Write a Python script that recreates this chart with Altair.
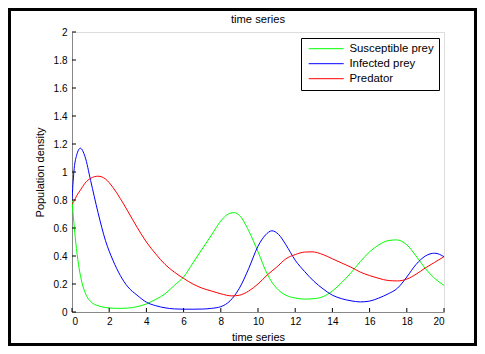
import altair as alt
import pandas as pd

# ---- data ----
series_names = ["Susceptible prey", "Infected prey", "Predator"]
series_colors = ["#00ff00", "#0000ff", "#ff0000"]

t_susceptible = [0, 0.1, 0.2, 0.35, 0.5, 0.7, 1.0, 1.4, 1.8, 2.2, 2.6, 3.0, 3.5, 4.0, 4.5,
                 5.0, 5.5, 6.0, 6.5, 7.0, 7.5, 8.0, 8.4, 8.7, 9.0, 9.5, 10.0, 10.5, 11.0,
                 11.5, 12.0, 12.5, 13.0, 13.5, 14.0, 14.5, 15.0, 15.5, 16.0, 16.5, 17.0,
                 17.45, 18.0, 18.5, 19.0, 19.5, 20.0]
v_susceptible = [0.80, 0.64, 0.50, 0.34, 0.23, 0.14, 0.075, 0.045, 0.032, 0.027, 0.026,
                 0.028, 0.038, 0.058, 0.09, 0.13, 0.19, 0.25, 0.35, 0.45, 0.55, 0.65, 0.70,
                 0.71, 0.69, 0.58, 0.43, 0.27, 0.17, 0.12, 0.10, 0.092, 0.095, 0.11, 0.15,
                 0.21, 0.28, 0.36, 0.43, 0.48, 0.51, 0.515, 0.48, 0.40, 0.31, 0.24, 0.19]

t_infected = [0, 0.1, 0.25, 0.45, 0.7, 1.0, 1.4, 1.8, 2.2, 2.6, 3.0, 3.5, 4.0, 4.5, 5.0,
              5.5, 6.0, 6.5, 7.0, 7.5, 8.0, 8.5, 9.0, 9.5, 10.0, 10.4, 10.75, 11.1, 11.5,
              12.0, 12.5, 13.0, 13.5, 14.0, 14.5, 15.0, 15.5, 16.0, 16.5, 17.0, 17.5,
              18.0, 18.5, 19.0, 19.5, 20.0]
v_infected = [0.80, 1.00, 1.12, 1.17, 1.11, 0.94, 0.71, 0.51, 0.37, 0.26, 0.18, 0.12, 0.07,
              0.045, 0.03, 0.022, 0.02, 0.02, 0.021, 0.026, 0.038, 0.08, 0.17, 0.31, 0.47,
              0.55, 0.58, 0.555, 0.48, 0.37, 0.29, 0.22, 0.165, 0.12, 0.095, 0.08, 0.072,
              0.078, 0.10, 0.13, 0.17, 0.25, 0.34, 0.40, 0.42, 0.395]

t_predator = [0, 0.1, 0.25, 0.45, 0.7, 1.0, 1.4, 1.8, 2.2, 2.6, 3.0, 3.5, 4.0, 4.5, 5.0,
              5.5, 6.0, 6.5, 7.0, 7.5, 8.0, 8.6, 9.0, 9.5, 10.0, 10.5, 11.0, 11.5, 12.0,
              12.5, 12.9, 13.5, 14.0, 14.5, 15.0, 15.5, 16.0, 16.5, 17.0, 17.5, 18.0,
              18.5, 19.0, 19.5, 20.0]
v_predator = [0.77, 0.79, 0.83, 0.87, 0.92, 0.955, 0.97, 0.95, 0.89, 0.81, 0.72, 0.605,
              0.50, 0.415, 0.34, 0.285, 0.24, 0.20, 0.17, 0.15, 0.13, 0.115, 0.12, 0.15,
              0.20, 0.265, 0.32, 0.38, 0.41, 0.428, 0.43, 0.41, 0.38, 0.35, 0.32, 0.285,
              0.26, 0.24, 0.225, 0.222, 0.235, 0.27, 0.315, 0.355, 0.395]

x_ticks = [0, 2, 4, 6, 8, 10, 12, 14, 16, 18, 20]
y_ticks = [0, 0.2, 0.4, 0.6, 0.8, 1.0, 1.2, 1.4, 1.6, 1.8, 2.0]

# ---- build table ----
frames = []
for name, ts, vs in zip(series_names,
                        [t_susceptible, t_infected, t_predator],
                        [v_susceptible, v_infected, v_predator]):
    frames.append(pd.DataFrame({"time": ts, "value": vs, "series": name}))
df = pd.concat(frames, ignore_index=True)

W, H = 372, 280
SVG_W, SVG_H = 469, 338
PL, PT = 64, 24
FONT = "Liberation Sans"

x_scale = alt.Scale(domain=[0, 20], nice=False, zero=False)
y_scale = alt.Scale(domain=[0, 2], nice=False, zero=False)

x_axis = alt.Axis(values=x_ticks, title="time series", ticks=False, tickSize=0,
                  grid=False, labelOverlap=False, labelPadding=4, titlePadding=5,
                  format="d", titleFontWeight="normal")
y_axis = alt.Axis(values=y_ticks, title="Population density", ticks=False,
                  tickSize=0, grid=False, labelOverlap=False, labelPadding=5,
                  titlePadding=8, format=".1~f", titleFontWeight="normal")

LP = 5  # legend padding
lines = alt.Chart(df).mark_line(interpolate="monotone", strokeWidth=1, clip=True).encode(
    x=alt.X("time:Q", scale=x_scale, axis=x_axis),
    y=alt.Y("value:Q", scale=y_scale, axis=y_axis),
    color=alt.Color("series:N",
                    scale=alt.Scale(domain=series_names, range=series_colors),
                    sort=series_names,
                    legend=alt.Legend(orient="none", legendX=229, legendY=6, title=None,
                                      strokeColor="black", fillColor="white", padding=LP,
                                      cornerRadius=0, symbolType="M-0.6,0H6.4",
                                      symbolSize=100, symbolStrokeWidth=1,
                                      labelFont=FONT, labelFontSize=11.4,
                                      labelColor="black", labelOffset=32, rowPadding=2)),
)

xt = alt.Chart(pd.DataFrame({"time": x_ticks})).mark_rule(color="black", strokeWidth=1).encode(
    x=alt.X("time:Q", scale=x_scale, axis=x_axis), y=alt.value(H), y2=alt.value(H - 4))
yt = alt.Chart(pd.DataFrame({"value": y_ticks})).mark_rule(color="black", strokeWidth=1).encode(
    y=alt.Y("value:Q", scale=y_scale, axis=y_axis), x=alt.value(0), x2=alt.value(4))

frame = alt.Chart(pd.DataFrame({"a": [0]})).mark_rect(
    fill="white", fillOpacity=0, stroke="black", strokeWidth=3).encode(
    x=alt.value(1.5 - PL), x2=alt.value(SVG_W - 1.5 - PL),
    y=alt.value(1.5 - PT), y2=alt.value(SVG_H - 1.5 - PT))

chart = alt.layer(frame, lines, xt, yt).properties(
    width=W, height=H,
    title=alt.TitleParams("time series", font=FONT, fontSize=11.2, fontWeight="normal",
                          color="black", offset=-17, anchor="middle", frame="group"),
    autosize=alt.AutoSizeParams(type="none"),
    padding={"left": PL, "top": PT, "right": SVG_W - PL - W, "bottom": SVG_H - PT - H},
).configure_view(stroke=None).configure_axis(
    grid=False, domainColor="black", domainWidth=1,
    labelFont=FONT, labelFontSize=11.6, labelColor="black",
    titleFont=FONT, titleFontSize=11.2, titleFontWeight="normal", titleColor="black",
).configure(background="white")

chart.save("out.html", embed_options={"renderer": "svg", "actions": False})
